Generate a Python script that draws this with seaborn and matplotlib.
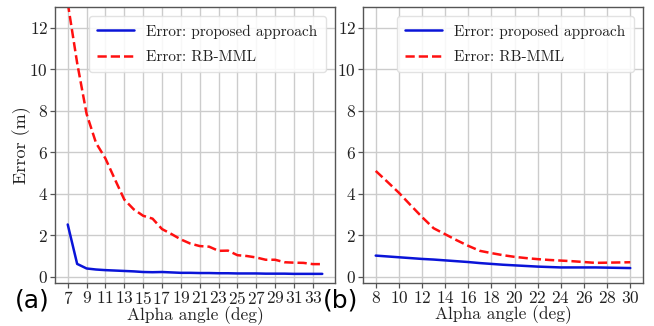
import numpy as np
import pandas as pd
import matplotlib
matplotlib.use("Agg")
import matplotlib.pyplot as plt
import seaborn as sns

# 数据 (a)
alpha_a = list(range(7, 35))
err_prop_a = [2.52, 0.62, 0.40, 0.35, 0.32, 0.30, 0.28, 0.26, 0.23, 0.22, 0.23, 0.21, 0.19, 0.19,
              0.18, 0.18, 0.17, 0.17, 0.16, 0.16, 0.16, 0.15, 0.15, 0.15, 0.14, 0.14, 0.14, 0.14]
err_rbmml_a = [13.2, 10.3, 7.85, 6.45, 5.7, 4.7, 3.72, 3.25, 2.94, 2.8, 2.3, 2.06, 1.8, 1.6,
               1.48, 1.45, 1.25, 1.26, 1.04, 1.0, 0.93, 0.82, 0.82, 0.7, 0.68, 0.67, 0.61, 0.61]

# 数据 (b)
alpha_b = list(range(8, 31))
err_prop_b = [1.02, 0.98, 0.94, 0.90, 0.86, 0.83, 0.79, 0.75, 0.71, 0.66, 0.62, 0.58, 0.55, 0.52,
              0.49, 0.47, 0.45, 0.45, 0.45, 0.45, 0.44, 0.43, 0.42]
err_rbmml_b = [5.1, 4.58, 4.05, 3.46, 2.88, 2.34, 2.05, 1.76, 1.49, 1.25, 1.14, 1.04, 0.96, 0.9,
               0.85, 0.81, 0.78, 0.75, 0.71, 0.67, 0.68, 0.69, 0.70]

label_prop = "Error: proposed approach"
label_rbmml = "Error: RB-MML"

sns.set_theme(style="whitegrid")
plt.rcParams["font.family"] = "serif"
plt.rcParams["font.serif"] = ["cmr10"]
plt.rcParams["mathtext.fontset"] = "cm"
plt.rcParams["axes.formatter.use_mathtext"] = True

TXT = "#222222"


def draw_panel(ax, x, prop, rbmml, xticks, tag, ylabel=None):
    df = pd.DataFrame({"alpha": x, "prop": prop, "rbmml": rbmml})
    sns.lineplot(data=df, x="alpha", y="prop", ax=ax, color="#0a14d8", lw=1.8, label=label_prop)
    sns.lineplot(data=df, x="alpha", y="rbmml", ax=ax, color="#ff1010", lw=1.8, ls="--", label=label_rbmml)
    ax.set_ylim(-0.3, 13)
    ax.set_yticks([0, 2, 4, 6, 8, 10, 12])
    ax.set_xticks(xticks)
    ax.grid(True, color="#cccccc", lw=1.0)
    for s in ax.spines.values():
        s.set_color("#555555")
        s.set_linewidth(1.0)
    ax.tick_params(axis="both", which="both", direction="out", length=3.5, width=0.9,
                   color="#555555", labelsize=12.5, labelcolor=TXT, pad=1.5,
                   bottom=True, left=True)
    ax.set_xlabel("Alpha angle (deg)", fontsize=12.5, color=TXT, labelpad=-0.5)
    if ylabel:
        ax.set_ylabel(ylabel, fontsize=13, color=TXT, labelpad=-1)
    else:
        ax.set_ylabel("")
    leg = ax.legend(loc="upper right", fontsize=11, frameon=True, fancybox=True,
                    handlelength=2.4, handletextpad=0.8, borderaxespad=0.6, labelspacing=0.75,
                    borderpad=0.55)
    leg.get_frame().set_edgecolor("#dddddd")
    leg.get_frame().set_alpha(0.85)
    for t in leg.get_texts():
        t.set_color(TXT)
    ax.text(-0.143, -0.062, tag, transform=ax.transAxes, fontsize=18,
            family="DejaVu Sans", color="black", ha="left", va="center")


fig = plt.figure(figsize=(6.54, 3.26), dpi=100)
ax1 = fig.add_axes([55 / 654, 43 / 326, 280 / 654, 276 / 326])
ax2 = fig.add_axes([363 / 654, 43 / 326, 280 / 654, 276 / 326])

draw_panel(ax1, alpha_a, err_prop_a, err_rbmml_a, list(range(7, 35, 2)), "(a)", "Error (m)")
draw_panel(ax2, alpha_b, err_prop_b, err_rbmml_b, list(range(8, 31, 2)), "(b)")

fig.savefig("out.png", dpi=100)
